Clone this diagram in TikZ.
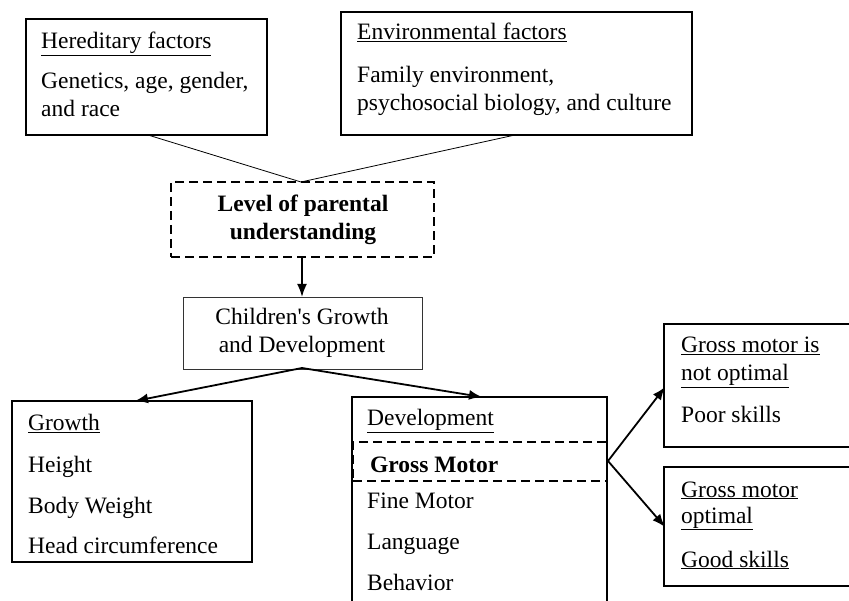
\documentclass[tikz,border=0pt]{standalone}
\usepackage{fontspec}
\setmainfont[Ligatures=TeXOff]{Liberation Serif}
\usetikzlibrary{arrows.meta}
\begin{document}
\begin{tikzpicture}[x=1pt,y=-1pt,
  box/.style={draw,line width=1.5pt,anchor=north west,inner sep=0,outer sep=0},
  thinbox/.style={draw,line width=0.9pt,anchor=north west,inner sep=0,outer sep=0,draw=black!80},
  dbox/.style={draw,line width=2.8pt,dash pattern=on 9pt off 5pt,anchor=north west,inner sep=0,outer sep=0},
  txt/.style={anchor=base west,inner sep=0,font=\fontsize{23.5}{28}\selectfont},
  ctxt/.style={anchor=base,inner sep=0,font=\fontsize{23.5}{28}\selectfont},
  thin/.style={line width=0.8pt},
  arr/.style={line width=1.8pt,-{Latex[length=13pt,width=10pt]}}
]
\useasboundingbox (0,0) rectangle (849,601);
\begin{scope}
\clip (0,0) rectangle (849,601);
% top boxes
\node[box,minimum width=241pt,minimum height=116pt] (her) at (26,19) {};
\node[txt] (herh) at (41,49) {\underline{Hereditary factors}};
\node[txt] (her1) at (41,89) {Genetics, age, gender,};
\node[txt] (her2) at (41,117) {and race};

\node[box,minimum width=351pt,minimum height=123pt] (env) at (341,12) {};
\node[txt] (envh) at (357,40) {\underline{Environmental factors}};
\node[txt] (env1) at (357,83) {Family environment,};
\node[txt] (env2) at (357,111) {psychosocial biology, and culture};

% parental understanding
\node[dbox,minimum width=263pt,minimum height=75pt] (lev) at (171,182) {};
\node[ctxt,font=\fontsize{23.5}{28}\selectfont\bfseries] (lev1) at (303,212) {Level of parental};
\node[ctxt,font=\fontsize{23.5}{28}\selectfont\bfseries] (lev2) at (303,240) {understanding};
\coordinate (levtop) at (301,182);
\coordinate (levbot) at (302,257);
\coordinate (hersb) at (148,135);
\coordinate (envsb) at (515,135);
\draw[thin] (hersb) -- (levtop);
\draw[thin] (envsb) -- (levtop);

% children box
\node[thinbox,minimum width=239pt,minimum height=72pt] (chi) at (183,297) {};
\node[ctxt] (chi1) at (302,325) {Children's Growth};
\node[ctxt] (chi2) at (302,353) {and Development};
\coordinate (chitop) at (302,297);
\coordinate (chibot) at (302,368);
\draw[arr] (levbot) -- (chitop);

% growth box
\node[box,minimum width=240pt,minimum height=161pt] (gro) at (12,401) {};
\node[txt] (groh) at (28,431) {\underline{Growth}};
\node[txt] (gro1) at (28,472) {Height};
\node[txt] (gro2) at (28,513) {Body Weight};
\node[txt] (gro3) at (28,553) {Head circumference};
\coordinate (grotop) at (135,401);

% development box
\node[box,minimum width=255pt,minimum height=215pt] (dev) at (352,397) {};
\node[txt] (devh) at (367,426) {\underline{Development}};
\node[dbox,minimum width=254pt,minimum height=39pt] (gm) at (353,442) {};
\node[txt,font=\fontsize{23.5}{28}\selectfont\bfseries] (gmt) at (370,472) {Gross Motor};
\node[txt] (dev2) at (367,508) {Fine Motor};
\node[txt] (dev3) at (367,549) {Language};
\node[txt] (dev4) at (367,590) {Behavior};
\coordinate (devtop) at (482,397);

\draw[arr] (chibot) -- (grotop);
\draw[arr] (chibot) -- (devtop);

% outcome boxes
\node[box,minimum width=190pt,minimum height=123pt] (no) at (664,324) {};
\node[txt] (no1) at (681,353) {\underline{Gross motor is}};
\node[txt] (no2) at (681,381) {\underline{not optimal}};
\node[txt] (no3) at (681,423) {Poor skills};

\node[box,minimum width=190pt,minimum height=119pt] (ok) at (664,467) {};
\node[txt] (ok1) at (681,497) {\underline{Gross motor}};
\node[txt] (ok2) at (681,523) {\underline{optimal}};
\node[txt] (ok3) at (681,567) {\underline{Good skills}};

\coordinate (gmr) at (608,461);
\coordinate (noin) at (665,387);
\coordinate (okin) at (665,527);
\draw[arr] (gmr) -- (noin);
\draw[arr] (gmr) -- (okin);
\end{scope}
\end{tikzpicture}
\end{document}
